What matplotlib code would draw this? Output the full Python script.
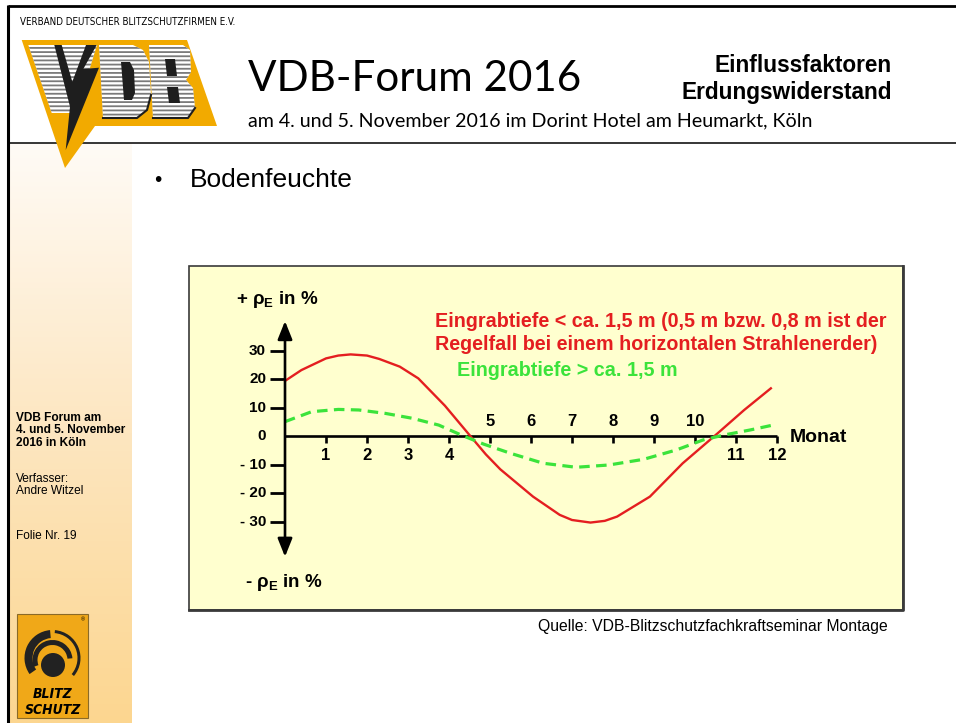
import numpy as np
import matplotlib.pyplot as plt
from matplotlib.patches import Polygon, Rectangle, Circle, Wedge
from matplotlib.colors import LinearSegmentedColormap

plt.rcParams['mathtext.fontset'] = 'custom'
plt.rcParams['mathtext.rm'] = 'Liberation Sans:bold'
plt.rcParams['hatch.linewidth'] = 1.3

# --- Werte aus dem Diagramm (Bodenfeuchte) ---
monate = [1, 2, 3, 4, 5, 6, 7, 8, 9, 10, 11, 12]
monate_oben = [5, 6, 7, 8, 9, 10]

rot_monat = [0, 0.4, 1.0, 1.3, 1.6, 2.0, 2.3, 2.8, 3.25, 3.9, 4.5, 4.9, 5.25, 6.05,
             6.7, 7.0, 7.45, 7.8, 8.1, 8.9, 9.7, 10.55, 11.2, 11.85]
rot_rho = [19.5, 23.3, 27.4, 28.4, 28.8, 28.4, 27.2, 24.5, 20.4, 10.8, 0.5, -6.3, -11.5, -21.1,
           -27.5, -29.3, -30.2, -29.6, -28.1, -21.1, -9.4, 1.1, 9.3, 16.9]

gruen_monat = [0, 0.65, 1.3, 1.8, 2.45, 3.1, 3.75, 4.3, 4.85, 5.5, 6.3, 7.1, 7.9,
               8.75, 9.55, 10.2, 10.7, 11.35, 11.9]
gruen_rho = [5.2, 8.7, 9.5, 9.3, 8.1, 6.4, 4.0, 0.5, -2.7, -5.9, -9.4, -10.8, -10.0,
             -8.0, -4.7, -1.2, 0.5, 2.3, 4.0]

y_ticks = [30, 20, 10, 0, -10, -20, -30]
y_tick_labels = ["30", "20", "10", "0", "- 10", "- 20", "- 30"]

W, H = 956, 723
fig = plt.figure(figsize=(W / 100, H / 100), dpi=100)

# ---------- Folie (Pixelkoordinaten) ----------
bg = fig.add_axes([0, 0, 1, 1])
bg.axis('off')

cmap = LinearSegmentedColormap.from_list('side', ['#fffbf6', '#fde6c0', '#fcd690'])
bg.imshow(np.linspace(0, 1, 256).reshape(-1, 1), extent=(10, 132, 723, 143),
          cmap=cmap, aspect='auto', zorder=0)

# Rahmen und Kopflinie
bg.plot([8, W], [5.5, 5.5], color='k', lw=2, solid_capstyle='butt')
bg.plot([8.5, 8.5], [5, H], color='k', lw=2.2, solid_capstyle='butt')
bg.plot([8, W], [143, 143], color='k', lw=1.1)

# VDB-Logo
bg.add_patch(Polygon([(21.7, 40), (187, 40), (217, 126), (95, 126), (65, 168)],
                     closed=True, fc='#f2aa00', ec='none', zorder=3))
stripe = dict(closed=True, fc='white', ec='#7a7a7a', lw=0, hatch='----', zorder=4)
bg.add_patch(Polygon([(28.3, 45), (97, 45), (76, 113), (51.7, 113)], **stripe))
bg.add_patch(Polygon([(99, 45), (133, 45), (143, 50), (149, 62), (151, 95), (147, 110),
                      (137, 118), (103, 118)], **stripe))
bg.add_patch(Polygon([(149, 45), (183, 45), (190, 50), (191, 72), (186, 80), (193, 88),
                      (195, 108), (188, 118), (153, 118)], **stripe))
for pts in ([(121, 62), (130, 62), (134, 70), (135, 93), (132, 100), (124, 100)],
            [(165, 59), (175, 59), (177, 76), (167, 76)],
            [(167, 87), (178, 87), (180, 103), (169, 103)]):
    bg.add_patch(Polygon(pts, closed=True, fc='#1e1e1e', ec='none', zorder=5))
# Schatten rechts/unten an D und B
bg.plot([151, 147, 137, 103], [95, 110, 118, 118], color='#1e1e1e', lw=1.5, zorder=5)
bg.plot([195, 188, 153], [108, 118, 118], color='#1e1e1e', lw=1.5, zorder=5)
bg.add_patch(Polygon([(54.3, 45), (61.7, 45), (72.3, 81.7), (86, 45), (96.7, 45), (83.3, 69),
                      (99, 67.7), (65.7, 150), (70, 106.7)],
                     closed=True, fc='#1e1e1e', ec='none', zorder=5))

bg.text(20, 22, "VERBAND DEUTSCHER BLITZSCHUTZFIRMEN E.V.", fontsize=7,
        family='DejaVu Sans', stretch='condensed', va='center', ha='left')

bg.text(248, 79, "VDB-Forum 2016", fontsize=30.3, family=['Lato', 'DejaVu Sans'],
        va='center', ha='left')
bg.text(248, 121, "am 4. und 5. November 2016 im Dorint Hotel am Heumarkt, Köln",
        fontsize=14.1, family=['Lato', 'DejaVu Sans'], va='center', ha='left')
bg.text(892, 66, "Einflussfaktoren", fontsize=16.3, fontweight='bold',
        family=['Liberation Sans', 'DejaVu Sans'], va='center', ha='right')
bg.text(892, 93, "Erdungswiderstand", fontsize=16.3, fontweight='bold',
        family=['Liberation Sans', 'DejaVu Sans'], va='center', ha='right')

bg.text(158, 181, "•", fontsize=15, family=['Liberation Sans', 'DejaVu Sans'],
        va='center', ha='center')
bg.text(190, 180, "Bodenfeuchte", fontsize=19, family=['Liberation Sans', 'DejaVu Sans'],
        va='center', ha='left')

# Seitenleiste
side = ['Liberation Sans', 'DejaVu Sans']
bg.text(16, 412, "VDB Forum am\n4. und 5. November\n2016 in Köln", fontsize=8.6,
        fontweight='bold', family=side, va='top', ha='left', linespacing=1.05)
bg.text(16, 473, "Verfasser:\nAndre Witzel", fontsize=8.6, family=side,
        va='top', ha='left', linespacing=1.05)
bg.text(16, 530, "Folie Nr. 19", fontsize=8.6, family=side, va='top', ha='left')

# Blitzschutz-Logo
bg.add_patch(Rectangle((17.5, 614), 71, 104, fc='#f0a818', ec='#8a6a28', lw=0.8, zorder=3))
bg.add_patch(Wedge((52.5, 658), 28, -215, -95, width=8, fc='#222222', zorder=4))
bg.add_patch(Wedge((52.5, 658), 28, -85, 40, width=3, fc='#222222', zorder=4))
bg.add_patch(Wedge((52.5, 660), 20, -200, -5, width=5, fc='#222222', zorder=4))
bg.add_patch(Circle((53, 665), 12, fc='#222222', zorder=4))
bg.text(53, 694, "BLITZ", fontsize=10, fontweight='bold', style='oblique',
        family='DejaVu Sans', stretch='condensed', ha='center', va='center', zorder=5)
bg.text(53, 710, "SCHUTZ", fontsize=10, fontweight='bold', style='oblique',
        family='DejaVu Sans', stretch='condensed', ha='center', va='center', zorder=5)
bg.text(83, 620, "®", fontsize=4, family=side, ha='center', va='center', zorder=5)

# Diagrammfläche
bg.add_patch(Rectangle((189, 266), 714, 344, fc='#ffffcf', ec='#3a3a3a', lw=1.2, zorder=1))
bg.plot([903, 903, 189], [266, 610, 610], color='#3a3a3a', lw=2, zorder=2)

bg.text(888, 627, "Quelle: VDB-Blitzschutzfachkraftseminar Montage", fontsize=11.3,
        family=side, ha='right', va='center')

bg.set_xlim(0, W)
bg.set_ylim(H, 0)

# ---------- Diagramm ----------
ax = fig.add_axes([189 / W, 1 - 610 / H, (903 - 189) / W, (610 - 266) / H])
ax.set_facecolor('none')
ax.set_xlim(-2.3415, 15.073)
ax.set_ylim(-60.88, 59.82)
ax.axis('off')

fnt = dict(family=['Liberation Sans', 'DejaVu Sans'], fontweight='bold')

ax.annotate('', xy=(0, 40.5), xytext=(0, -42.2),
            arrowprops=dict(arrowstyle='<|-|>,head_length=0.55,head_width=0.22',
                            mutation_scale=20, lw=1.9, color='k', shrinkA=0, shrinkB=0))
ax.plot([0, 12], [0, 0], color='k', lw=1.9, solid_capstyle='butt')
for m in monate:
    ax.plot([m, m], [0, -2.2], color='k', lw=1.9, solid_capstyle='butt')
for v, lab in zip(y_ticks, y_tick_labels):
    if v != 0:
        ax.plot([-0.36, 0], [v, v], color='k', lw=2, solid_capstyle='butt')
    ax.text(-0.46, v, lab, fontsize=11, ha='right', va='center', **fnt)

for m in monate:
    if m in monate_oben:
        ax.text(m, 5.3, str(m), fontsize=12, ha='center', va='center', **fnt)
    else:
        ax.text(m, -6.5, str(m), fontsize=12, ha='center', va='center', **fnt)

ax.text(12.3, -0.2, "Monat", fontsize=14, ha='left', va='center', **fnt)
ax.text(-1.2, 47.9, r"+ ρ$_\mathrm{E}$ in %", fontsize=13.5, ha='left', va='center', **fnt)
ax.text(-0.97, -51.2, r"- ρ$_\mathrm{E}$ in %", fontsize=13.5, ha='left', va='center', **fnt)

ax.plot(rot_monat, rot_rho, color='#e41e20', lw=1.7)
ax.plot(gruen_monat, gruen_rho, color='#3be33b', lw=2.3, dashes=(3.3, 2.0))

ax.text(3.66, 40.5, "Eingrabtiefe < ca. 1,5 m (0,5 m bzw. 0,8 m ist der",
        color='#e41e20', fontsize=14.2, ha='left', va='center', **fnt)
ax.text(3.66, 32.4, "Regelfall bei einem horizontalen Strahlenerder)",
        color='#e41e20', fontsize=14.2, ha='left', va='center', **fnt)
ax.text(4.2, 23.3, "Eingrabtiefe > ca. 1,5 m",
        color='#3be33b', fontsize=14.2, ha='left', va='center', **fnt)

fig.savefig('out.png', dpi=100)
